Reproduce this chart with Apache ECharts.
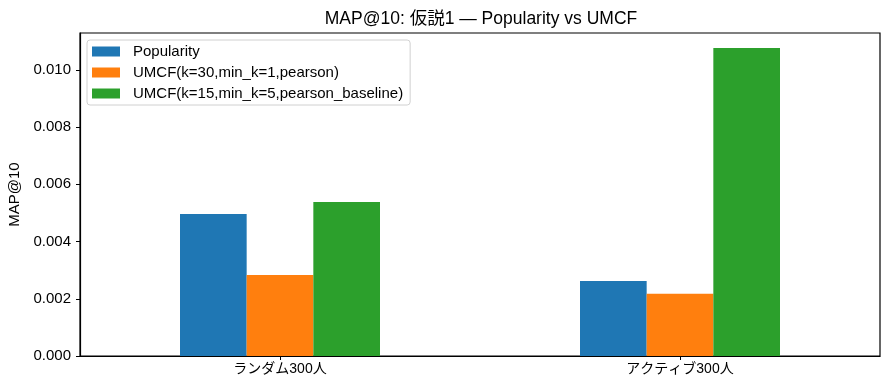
<!DOCTYPE html>
<html><head><meta charset="utf-8">
<script src="https://cdn.jsdelivr.net/npm/echarts@6/dist/echarts.min.js"></script>
<style>html,body{margin:0;padding:0;background:#fff}#c{width:889px;height:390px}</style>
</head><body><div id="c"></div>
<script>
const categories = ['ランダム300人', 'アクティブ300人'];
const seriesNames = ['Popularity', 'UMCF(k=30,min_k=1,pearson)', 'UMCF(k=15,min_k=5,pearson_baseline)'];
const popularity = [0.00496, 0.00262];
const umcf30 = [0.00283, 0.00218];
const umcf15 = [0.00538, 0.01077];
const yTicks = [0, 0.002, 0.004, 0.006, 0.008, 0.010];
const colors = ['#1f77b4', '#ff7f0e', '#2ca02c'];
const font = '"Liberation Sans", "Noto Sans CJK JP", sans-serif';

const chart = echarts.init(document.getElementById('c'), null, {renderer: 'canvas'});
const values = [popularity, umcf30, umcf15];
chart.setOption({
  animation: false,
  textStyle: {fontFamily: font},
  title: {text: 'MAP@10: 仮説1 — Popularity vs UMCF', left: 476, top: 5, textAlign: 'center',
    textStyle: {fontFamily: font, fontSize: 17.5, fontWeight: 'normal', color: '#000'}},
  legend: {orient: 'vertical', left: 87, top: 40, itemWidth: 28, itemHeight: 10, itemGap: 6,
    backgroundColor: 'rgba(255,255,255,0.8)', borderColor: '#d0d0d0', borderWidth: 1, borderRadius: 3,
    padding: [4, 7, 4, 5],
    textStyle: {fontFamily: font, fontSize: 15, color: '#000', padding: [0, 0, 0, 8]},
    data: seriesNames.map(n => ({name: n, icon: 'rect'}))},
  grid: {left: 80, right: 9, top: 33, bottom: 34, outerBoundsMode: 'none', show: true, borderColor: '#000', borderWidth: 1.2, backgroundColor: 'transparent'},
  xAxis: {type: 'category', data: categories, boundaryGap: true,
    axisLine: {show: true, lineStyle: {color: '#000', width: 1.2}},
    axisTick: {show: true, alignWithLabel: true, length: 4, lineStyle: {color: '#000'}},
    axisLabel: {fontFamily: font, fontSize: 14, color: '#000', margin: 6},
    splitLine: {show: false}},
  yAxis: {type: 'value', min: 0, max: 0.01129, interval: 0.002,
    name: 'MAP@10', nameLocation: 'middle', nameGap: 57, nameRotate: 90,
    nameTextStyle: {fontFamily: font, fontSize: 15, color: '#000'},
    axisLine: {show: true, lineStyle: {color: '#000', width: 1.2}},
    axisTick: {show: true, length: 4, lineStyle: {color: '#000'}, customValues: yTicks},
    axisLabel: {fontFamily: font, fontSize: 15, color: '#000', margin: 9, customValues: yTicks,
      formatter: v => v.toFixed(3)},
    splitLine: {show: false}},
  series: seriesNames.map((n, i) => ({
    name: n, type: 'bar', data: values[i], barGap: '0%', barCategoryGap: '50%',
    itemStyle: {color: colors[i]}
  }))
});
</script></body></html>
